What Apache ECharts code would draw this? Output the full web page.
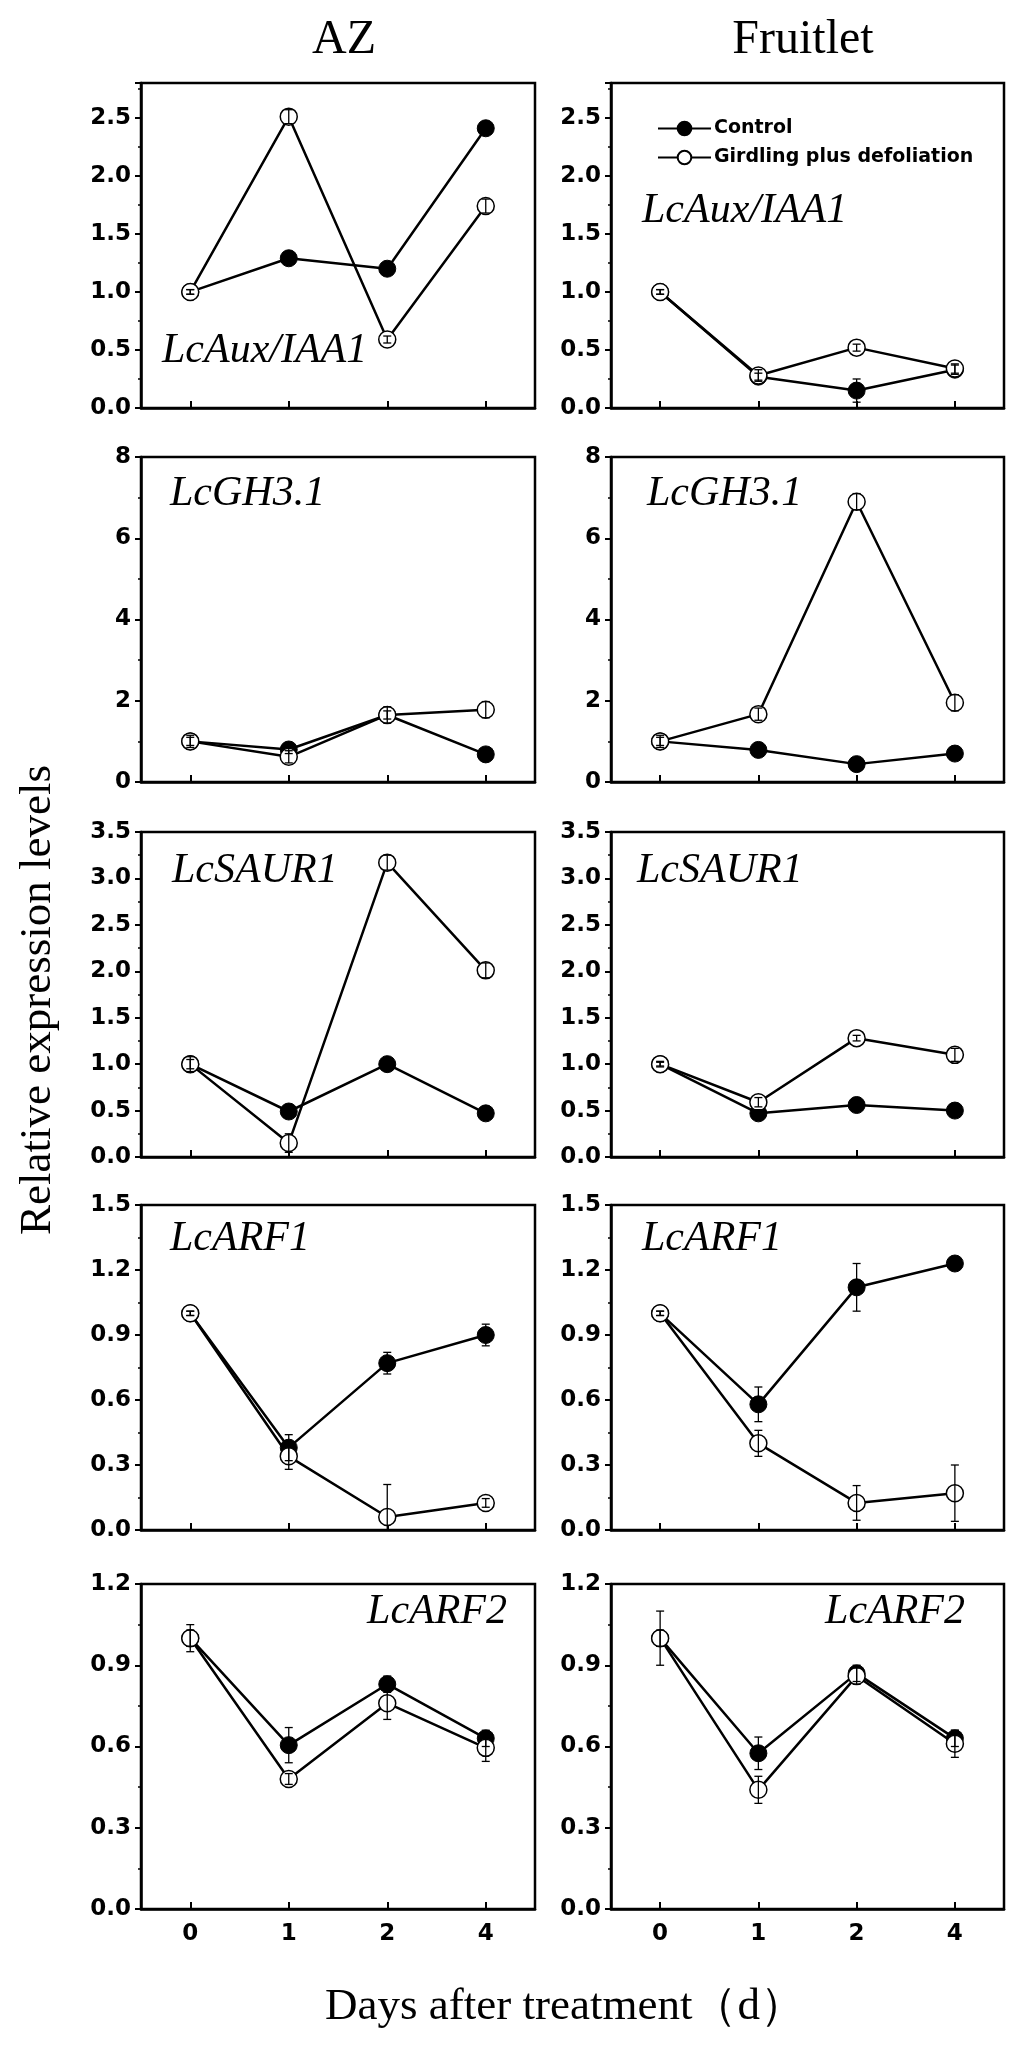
<!DOCTYPE html>
<html><head><meta charset="utf-8">
<script src="https://cdn.jsdelivr.net/npm/echarts@6/dist/echarts.min.js"></script>
<style>html,body{margin:0;padding:0;background:#fff}#c{width:1024px;height:2046px}</style>
</head><body><div id="c"></div>
<script>
// ---------- data ----------
const days = ['0', '1', '2', '4'];
const genes = ['LcAux/IAA1', 'LcGH3.1', 'LcSAUR1', 'LcARF1', 'LcARF2'];
const tissues = ['AZ', 'Fruitlet'];
const seriesNames = ['Control', 'Girdling plus defoliation'];
const yMax = [2.8, 8, 3.5, 1.5, 1.2];
const yStep = [0.5, 2, 0.5, 0.3, 0.3];
const yDecimals = [1, 0, 1, 1, 1];

// AZ
const azAuxCtrl = [1.00, 1.29, 1.20, 2.41];
const azAuxCtrlErr = [0.02, 0.03, 0.03, 0.03];
const azAuxGird = [1.00, 2.51, 0.59, 1.74];
const azAuxGirdErr = [0.02, 0.06, 0.03, 0.06];
const azGhCtrl = [1.00, 0.80, 1.65, 0.68];
const azGhCtrlErr = [0.10, 0.10, 0.10, 0.05];
const azGhGird = [1.00, 0.62, 1.65, 1.78];
const azGhGirdErr = [0.15, 0.15, 0.20, 0.20];
const azSaurCtrl = [1.00, 0.49, 1.00, 0.47];
const azSaurCtrlErr = [0.05, 0.03, 0.03, 0.03];
const azSaurGird = [1.00, 0.15, 3.17, 2.01];
const azSaurGirdErr = [0.08, 0.10, 0.08, 0.08];
const azArf1Ctrl = [1.00, 0.38, 0.77, 0.90];
const azArf1CtrlErr = [0.01, 0.06, 0.05, 0.05];
const azArf1Gird = [1.00, 0.34, 0.06, 0.125];
const azArf1GirdErr = [0.01, 0.06, 0.15, 0.02];
const azArf2Ctrl = [1.00, 0.605, 0.83, 0.63];
const azArf2CtrlErr = [0.03, 0.065, 0.03, 0.03];
const azArf2Gird = [1.00, 0.48, 0.76, 0.595];
const azArf2GirdErr = [0.05, 0.02, 0.06, 0.05];
// Fruitlet
const frAuxCtrl = [1.00, 0.27, 0.15, 0.33];
const frAuxCtrlErr = [0.02, 0.03, 0.10, 0.04];
const frAuxGird = [1.00, 0.28, 0.52, 0.34];
const frAuxGirdErr = [0.02, 0.05, 0.03, 0.04];
const frGhCtrl = [1.00, 0.79, 0.44, 0.70];
const frGhCtrlErr = [0.10, 0.05, 0.05, 0.05];
const frGhGird = [1.00, 1.67, 6.90, 1.95];
const frGhGirdErr = [0.15, 0.15, 0.20, 0.20];
const frSaurCtrl = [1.00, 0.47, 0.56, 0.50];
const frSaurCtrlErr = [0.02, 0.04, 0.03, 0.03];
const frSaurGird = [1.00, 0.59, 1.28, 1.10];
const frSaurGirdErr = [0.03, 0.05, 0.03, 0.07];
const frArf1Ctrl = [1.00, 0.58, 1.12, 1.23];
const frArf1CtrlErr = [0.01, 0.08, 0.11, 0.03];
const frArf1Gird = [1.00, 0.40, 0.125, 0.17];
const frArf1GirdErr = [0.01, 0.06, 0.08, 0.13];
const frArf2Ctrl = [1.00, 0.575, 0.87, 0.63];
const frArf2CtrlErr = [0.03, 0.06, 0.03, 0.03];
const frArf2Gird = [1.00, 0.44, 0.86, 0.61];
const frArf2GirdErr = [0.10, 0.05, 0.03, 0.05];

// panels[row][col] = [ctrl, ctrlErr, gird, girdErr]
const panels = [
  [[azAuxCtrl, azAuxCtrlErr, azAuxGird, azAuxGirdErr], [frAuxCtrl, frAuxCtrlErr, frAuxGird, frAuxGirdErr]],
  [[azGhCtrl, azGhCtrlErr, azGhGird, azGhGirdErr], [frGhCtrl, frGhCtrlErr, frGhGird, frGhGirdErr]],
  [[azSaurCtrl, azSaurCtrlErr, azSaurGird, azSaurGirdErr], [frSaurCtrl, frSaurCtrlErr, frSaurGird, frSaurGirdErr]],
  [[azArf1Ctrl, azArf1CtrlErr, azArf1Gird, azArf1GirdErr], [frArf1Ctrl, frArf1CtrlErr, frArf1Gird, frArf1GirdErr]],
  [[azArf2Ctrl, azArf2CtrlErr, azArf2Gird, azArf2GirdErr], [frArf2Ctrl, frArf2CtrlErr, frArf2Gird, frArf2GirdErr]]
];

// ---------- layout ----------
const gridLeft = [141, 611];
const gridWidth = [394, 393];
const gridTop = [83, 457, 832, 1205, 1584];
const gridHeight = 325;
// gene label anchor: [x, baseline, align]
const geneLabelPos = [
  [[162, 372, 'left'], [642, 232, 'left']],
  [[170, 515, 'left'], [647, 515, 'left']],
  [[172, 892, 'left'], [637, 892, 'left']],
  [[170, 1260, 'left'], [642, 1260, 'left']],
  [[507, 1633, 'right'], [965, 1633, 'right']]
];

const TICK_FONT = 'DejaVu Sans';
const SERIF = '"Liberation Serif", "Times New Roman", serif';

const grids = [], xAxes = [], yAxes = [], series = [], graphics = [];

function errRender(params, api) {
  const x = api.value(0), y = api.value(1), e = api.value(2);
  const top = api.coord([x, y + e]);
  const bot = api.coord([x, y - e]);
  const hw = 4;
  const st = { stroke: '#000', lineWidth: 1.3 };
  return {
    type: 'group',
    children: [
      { type: 'line', shape: { x1: top[0], y1: top[1], x2: bot[0], y2: bot[1] }, style: st },
      { type: 'line', shape: { x1: top[0] - hw, y1: top[1], x2: top[0] + hw, y2: top[1] }, style: st },
      { type: 'line', shape: { x1: bot[0] - hw, y1: bot[1], x2: bot[0] + hw, y2: bot[1] }, style: st }
    ]
  };
}

for (let r = 0; r < 5; r++) {
  for (let c = 0; c < 2; c++) {
    const i = r * 2 + c;
    grids.push({
      left: gridLeft[c], top: gridTop[r], width: gridWidth[c], height: gridHeight,
      show: true, borderColor: '#000', borderWidth: 2.5, backgroundColor: 'transparent'
    });
    xAxes.push({
      type: 'category', gridIndex: i, data: days, boundaryGap: true,
      axisLine: { lineStyle: { color: '#000', width: 2.5 } },
      axisTick: { show: true, inside: true, alignWithLabel: true, length: 7, lineStyle: { color: '#000', width: 2 } },
      axisLabel: { show: r === 4, color: '#000', fontFamily: TICK_FONT, fontWeight: 'bold', fontSize: 23, margin: 14 },
      splitLine: { show: false }
    });
    const step = yStep[r], dec = yDecimals[r];
    yAxes.push({
      type: 'value', gridIndex: i, min: 0, max: yMax[r], interval: step,
      axisLine: { show: true, lineStyle: { color: '#000', width: 2.5 } },
      axisTick: { show: true, inside: false, length: 6, lineStyle: { color: '#000', width: 2 } },
      minorTick: { show: true, splitNumber: 2, length: 3, lineStyle: { color: '#000', width: 1.5 } },
      splitLine: { show: false },
      axisLabel: {
        color: '#000', fontFamily: TICK_FONT, fontWeight: 'bold', fontSize: 23, margin: 10,
        formatter: function (v) {
          const k = v / step;
          if (Math.abs(k - Math.round(k)) > 1e-6) return '';
          return v.toFixed(dec);
        }
      }
    });
    const [ctrl, ctrlErr, gird, girdErr] = panels[r][c];
    series.push({
      name: seriesNames[0], type: 'line', xAxisIndex: i, yAxisIndex: i, data: ctrl,
      symbol: 'circle', symbolSize: 17, z: 2,
      lineStyle: { color: '#000', width: 2.5 },
      itemStyle: { color: '#000', borderColor: '#000', borderWidth: 1 }
    });
    series.push({
      name: seriesNames[1], type: 'line', xAxisIndex: i, yAxisIndex: i, data: gird,
      symbol: 'circle', symbolSize: 17, z: 3,
      lineStyle: { color: '#000', width: 2.5 },
      itemStyle: { color: '#fff', borderColor: '#000', borderWidth: 1.5 }
    });
    series.push({
      type: 'custom', xAxisIndex: i, yAxisIndex: i, z: 4, clip: true, renderItem: errRender,
      data: ctrl.map((v, k) => [k, v, ctrlErr[k]])
    });
    series.push({
      type: 'custom', xAxisIndex: i, yAxisIndex: i, z: 5, clip: true, renderItem: errRender,
      data: gird.map((v, k) => [k, v, girdErr[k]])
    });
    const gp = geneLabelPos[r][c];
    graphics.push({
      type: 'text', x: gp[0], y: gp[1], z: 10,
      style: {
        text: genes[r], fill: '#000', font: 'italic 42px ' + SERIF,
        textAlign: gp[2], textVerticalAlign: 'bottom'
      }
    });
  }
}

// column titles
graphics.push({ type: 'text', x: 344, y: 64, style: { text: tissues[0], fill: '#000', font: '48px ' + SERIF, textAlign: 'center', textVerticalAlign: 'bottom' } });
graphics.push({ type: 'text', x: 803, y: 64, style: { text: tissues[1], fill: '#000', font: '48px ' + SERIF, textAlign: 'center', textVerticalAlign: 'bottom' } });
// axis titles
graphics.push({ type: 'text', x: 565, y: 2007, style: { text: 'Days after treatment（d）', fill: '#000', font: '45px ' + SERIF, textAlign: 'center', textVerticalAlign: 'middle' } });
graphics.push({ type: 'text', x: 38, y: 1000, rotation: Math.PI / 2, style: { text: 'Relative expression levels', fill: '#000', font: '45px ' + SERIF, textAlign: 'center', textVerticalAlign: 'middle' } });

const chart = echarts.init(document.getElementById('c'), null, { renderer: 'canvas' });
chart.setOption({
  animation: false,
  backgroundColor: '#fff',
  grid: grids, xAxis: xAxes, yAxis: yAxes, series: series,
  legend: {
    data: seriesNames, orient: 'vertical', left: 652, top: 114,
    itemWidth: 53, itemHeight: 17, itemGap: 10, selectedMode: false,
    textStyle: { color: '#000', fontFamily: TICK_FONT, fontWeight: 'bold', fontSize: 19, padding: [0, 0, 0, -2] }
  },
  graphic: graphics
});
</script>
</body></html>
